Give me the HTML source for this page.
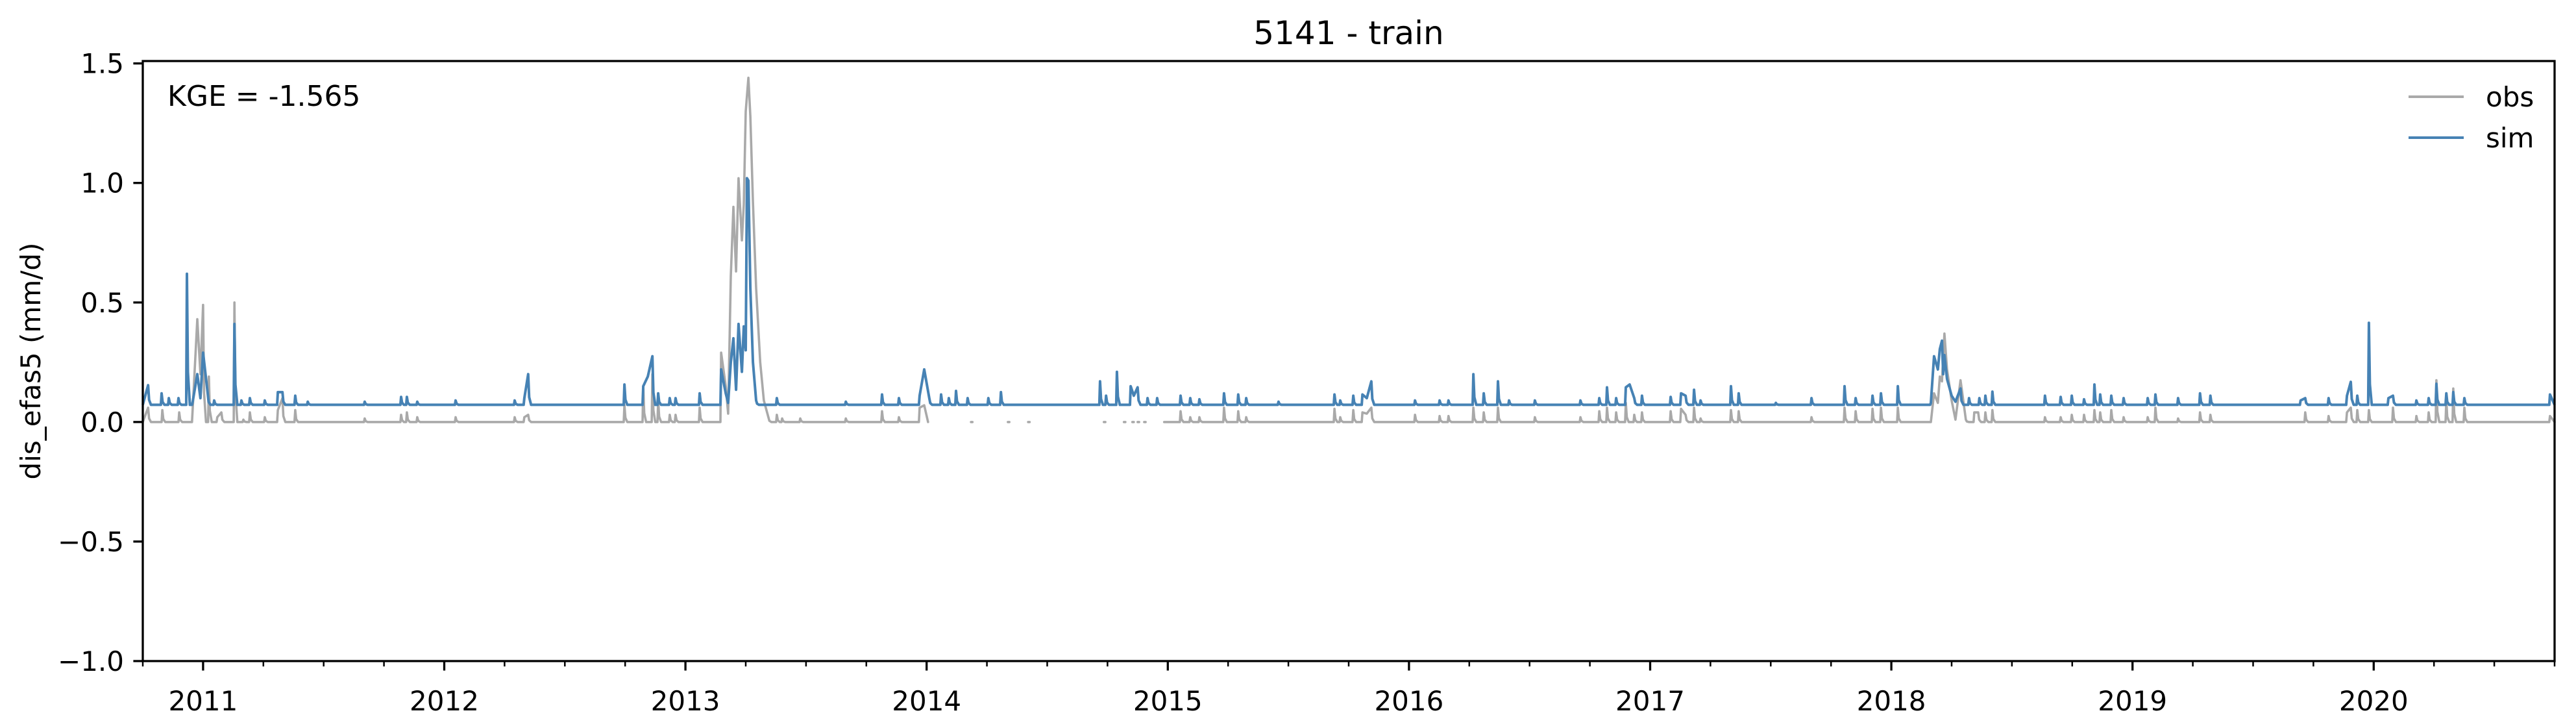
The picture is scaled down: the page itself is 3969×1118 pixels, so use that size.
<!DOCTYPE html>
<html><head><meta charset="utf-8"><title>5141 - train</title>
<style>
html,body{margin:0;padding:0;background:#fff;}
svg{display:block;font-family:"DejaVu Sans","Liberation Sans",sans-serif;}
</style></head>
<body>
<svg id="chart" width="3969" height="1118" viewBox="0 0 3969 1118" xmlns="http://www.w3.org/2000/svg">
<rect x="0" y="0" width="3969" height="1118" fill="#fff"/>
<text x="2078" y="68" font-size="50" text-anchor="middle">5141 - train</text>
<text transform="translate(62,556) rotate(-90)" font-size="42" text-anchor="middle">dis_efas5 (mm/d)</text>
<text x="258" y="163" font-size="44">KGE = -1.565</text>
<g id="plot"></g>
<g id="axes"></g>
<g>
  <line x1="3711" y1="149" x2="3796" y2="149" stroke="#a9a9a9" stroke-width="4"/>
  <text x="3830" y="164" font-size="42">obs</text>
  <line x1="3711" y1="212" x2="3796" y2="212" stroke="#4682b4" stroke-width="4"/>
  <text x="3830" y="227" font-size="42">sim</text>
</g>
</svg>
<script>
const yTicks = [1.5, 1.0, 0.5, 0.0, -0.5, -1.0];
const yTickLabels = ["1.5", "1.0", "0.5", "0.0", "\u22120.5", "\u22121.0"];
const xYears = [2011, 2012, 2013, 2014, 2015, 2016, 2017, 2018, 2019, 2020];
const xDomain = [2010.75, 2020.75];
const yDomain = [-1.0, 1.51];
const simBase = 0.072;
const obsBase = 0.0;
const simT = [2010.772,2010.828,2010.858,2010.898,2010.933,2010.957,2010.976,2010.989,2011.000,2011.019,2011.046,2011.130,2011.159,2011.194,2011.256,2011.310,2011.329,2011.382,2011.434,2011.670,2011.821,2011.845,2011.888,2012.047,2012.292,2012.332,2012.348,2012.747,2012.825,2012.844,2012.863,2012.887,2012.935,2012.959,2013.059,2013.148,2013.167,2013.177,2013.188,2013.199,2013.210,2013.220,2013.234,2013.242,2013.250,2013.255,2013.261,2013.269,2013.280,2013.293,2013.379,2013.665,2013.815,2013.885,2013.971,2013.990,2014.011,2014.060,2014.092,2014.122,2014.170,2014.256,2014.308,2014.719,2014.744,2014.789,2014.846,2014.859,2014.875,2014.916,2014.956,2015.053,2015.093,2015.131,2015.233,2015.292,2015.325,2015.459,2015.691,2015.715,2015.769,2015.807,2015.825,2015.844,2016.025,2016.127,2016.164,2016.267,2016.310,2016.369,2016.415,2016.522,2016.711,2016.789,2016.821,2016.859,2016.899,2016.915,2016.934,2016.966,2017.085,2017.128,2017.147,2017.182,2017.209,2017.335,2017.367,2017.521,2017.669,2017.806,2017.852,2017.922,2017.957,2018.027,2018.164,2018.177,2018.193,2018.201,2018.210,2018.215,2018.220,2018.231,2018.250,2018.266,2018.287,2018.322,2018.365,2018.390,2018.419,2018.637,2018.702,2018.748,2018.799,2018.842,2018.866,2018.912,2018.963,2019.063,2019.095,2019.189,2019.280,2019.323,2019.697,2019.716,2019.813,2019.889,2019.905,2019.932,2019.980,2020.061,2020.080,2020.177,2020.228,2020.260,2020.301,2020.330,2020.376,2020.731];
const simV = [0.154,0.12,0.10,0.10,0.62,0.085,0.20,0.10,0.29,0.12,0.09,0.41,0.09,0.10,0.09,0.125,0.125,0.11,0.085,0.085,0.105,0.105,0.085,0.09,0.09,0.10,0.20,0.157,0.15,0.19,0.275,0.12,0.10,0.10,0.12,0.22,0.12,0.08,0.25,0.35,0.135,0.41,0.21,0.40,0.30,1.02,1.01,0.56,0.25,0.09,0.10,0.085,0.115,0.10,0.11,0.22,0.10,0.115,0.10,0.13,0.10,0.10,0.125,0.17,0.11,0.21,0.15,0.11,0.145,0.10,0.10,0.11,0.10,0.095,0.12,0.115,0.10,0.085,0.115,0.09,0.11,0.115,0.10,0.17,0.09,0.09,0.09,0.20,0.12,0.17,0.09,0.09,0.09,0.10,0.145,0.10,0.145,0.157,0.10,0.11,0.105,0.12,0.11,0.135,0.09,0.15,0.12,0.08,0.10,0.15,0.10,0.11,0.12,0.15,0.08,0.275,0.22,0.305,0.34,0.20,0.28,0.18,0.11,0.085,0.14,0.10,0.10,0.11,0.127,0.11,0.105,0.11,0.095,0.157,0.115,0.11,0.10,0.10,0.115,0.10,0.12,0.11,0.09,0.10,0.10,0.11,0.168,0.11,0.415,0.10,0.11,0.09,0.10,0.16,0.12,0.125,0.10,0.115];
// null value = gap in observations; pairs of zero points between nulls are isolated dots
const obsT = [2010.772,2010.831,2010.901,2010.957,2010.976,2010.989,2011.000,2011.024,2011.059,2011.076,2011.130,2011.167,2011.194,2011.256,2011.310,2011.329,2011.382,2011.670,2011.821,2011.845,2011.888,2012.047,2012.292,2012.332,2012.348,2012.747,2012.825,2012.863,2012.887,2012.935,2012.959,2013.059,2013.148,2013.167,2013.177,2013.188,2013.199,2013.210,2013.220,2013.234,2013.242,2013.250,2013.261,2013.269,2013.280,2013.293,2013.310,2013.325,2013.344,2013.379,2013.401,2013.476,2013.665,2013.815,2013.885,2013.971,2013.990,2014.006,2014.007,2014.184,2014.190,2014.191,2014.337,2014.343,2014.344,2014.421,2014.427,2014.428,2014.735,2014.741,2014.742,2014.818,2014.824,2014.825,2014.853,2014.859,2014.860,2014.875,2014.881,2014.882,2014.902,2014.908,2014.909,2014.985,2015.053,2015.093,2015.131,2015.233,2015.292,2015.325,2015.691,2015.715,2015.769,2015.807,2015.825,2015.844,2016.025,2016.127,2016.164,2016.267,2016.310,2016.369,2016.522,2016.711,2016.789,2016.821,2016.859,2016.899,2016.934,2016.966,2017.085,2017.128,2017.147,2017.182,2017.209,2017.335,2017.367,2017.669,2017.806,2017.852,2017.922,2017.957,2018.027,2018.164,2018.177,2018.193,2018.201,2018.210,2018.220,2018.231,2018.250,2018.266,2018.287,2018.309,2018.344,2018.360,2018.390,2018.419,2018.637,2018.702,2018.748,2018.799,2018.842,2018.866,2018.912,2018.963,2019.063,2019.095,2019.189,2019.280,2019.323,2019.716,2019.813,2019.889,2019.905,2019.932,2019.980,2020.080,2020.177,2020.228,2020.260,2020.301,2020.330,2020.376,2020.731];
const obsV = [0.06,0.05,0.04,0.055,0.43,0.20,0.49,0.19,0.02,0.04,0.50,0.01,0.04,0.02,0.05,0.10,0.05,0.015,0.03,0.04,0.02,0.02,0.02,0.02,0.03,0.07,0.15,0.20,0.09,0.03,0.03,0.06,0.29,0.15,0.035,0.61,0.90,0.63,1.02,0.76,0.91,1.30,1.44,1.28,0.92,0.56,0.25,0.09,0.02,0.03,0.015,0.015,0.015,0.045,0.02,0.06,0.07,0.0,null,0.0,0.0,null,0.0,0.0,null,0.0,0.0,null,0.0,0.0,null,0.0,0.0,null,0.0,0.0,null,0.0,0.0,null,0.0,0.0,null,0.0,0.045,0.02,0.02,0.06,0.045,0.02,0.055,0.02,0.05,0.04,0.035,0.06,0.03,0.025,0.025,0.06,0.04,0.06,0.02,0.02,0.045,0.06,0.04,0.08,0.03,0.04,0.045,0.055,0.03,0.06,0.015,0.05,0.045,0.02,0.06,0.045,0.055,0.06,0.06,0.0,0.12,0.08,0.19,0.17,0.37,0.22,0.09,0.01,0.175,0.01,0.04,0.04,0.04,0.05,0.02,0.02,0.03,0.03,0.05,0.04,0.05,0.02,0.02,0.06,0.015,0.04,0.03,0.04,0.025,0.04,0.06,0.05,0.05,0.06,0.025,0.04,0.175,0.09,0.14,0.06,0.025];

const L = 220, R = 3936, T = 94, B = 1018;
const CLUSTER = 0.022;
function xs(t){ return L + (t - xDomain[0]) / (xDomain[1] - xDomain[0]) * (R - L); }
function ys(v){ return B - (v - yDomain[0]) / (yDomain[1] - yDomain[0]) * (B - T); }
const NS = "http://www.w3.org/2000/svg";
const plot = document.getElementById('plot');
const axes = document.getElementById('axes');

function buildPaths(ts, vs, base){
  const runs = []; let run = [];
  for (let i = 0; i < ts.length; i++){
    if (vs[i] === null){ if (run.length) runs.push(run); run = []; continue; }
    run.push([ts[i], vs[i]]);
  }
  if (run.length) runs.push(run);
  const paths = [];
  runs.forEach((r, ri) => {
    const pts = [];
    const isDot = r.length === 2 && r[0][1] === base && r[1][1] === base;
    if (isDot){ pts.push(r[0], r[1]); }
    else {
      if (ri === 0) pts.push([xDomain[0], base]);
      for (let i = 0; i < r.length; i++){
        const [t, v] = r[i];
        const pt = i > 0 ? r[i-1][0] : (ri === 0 ? xDomain[0] : null);
        const nt = i < r.length - 1 ? r[i+1][0] : (ri === runs.length - 1 ? xDomain[1] : null);
        if (pt !== null && t - pt > CLUSTER) pts.push([t - 0.003, base]);
        pts.push([t, v]);
        if (nt !== null && nt - t > CLUSTER){
          pts.push([t + 0.004, base + (v - base) * 0.25]);
          pts.push([t + 0.012, base]);
        }
      }
      if (ri === runs.length - 1) pts.push([xDomain[1], base]);
    }
    paths.push(pts.map((p, j) => (j ? 'L' : 'M') + xs(p[0]).toFixed(1) + ',' + ys(p[1]).toFixed(1)).join(''));
  });
  return paths;
}

buildPaths(obsT, obsV, obsBase).forEach(d => {
  const p = document.createElementNS(NS, 'path');
  
  
  p.setAttribute('d', d); p.setAttribute('fill', 'none'); p.setAttribute('stroke', '#a9a9a9');
  p.setAttribute('stroke-width', '3.6'); p.setAttribute('stroke-linejoin', 'round'); p.setAttribute('stroke-linecap', 'round');
  plot.appendChild(p);
});
buildPaths(simT, simV, simBase).forEach(d => {
  const p = document.createElementNS(NS, 'path');
  
  
  p.setAttribute('d', d); p.setAttribute('fill', 'none'); p.setAttribute('stroke', '#4682b4');
  p.setAttribute('stroke-width', '4'); p.setAttribute('stroke-linejoin', 'round');
  plot.appendChild(p);
});

const frame = document.createElementNS(NS, 'rect');


frame.setAttribute('x', L); frame.setAttribute('y', T); frame.setAttribute('width', R - L); frame.setAttribute('height', B - T);
frame.setAttribute('fill', 'none'); frame.setAttribute('stroke', '#000'); frame.setAttribute('stroke-width', '3.3');
axes.appendChild(frame);

yTicks.forEach((v, i) => {
  const y = ys(v);
  const tk = document.createElementNS(NS, 'line');
  
  
  tk.setAttribute('x1', L - 14.6); tk.setAttribute('x2', L); tk.setAttribute('y1', y); tk.setAttribute('y2', y);
  tk.setAttribute('stroke', '#000'); tk.setAttribute('stroke-width', '3.3');
  axes.appendChild(tk);
  const tx = document.createElementNS(NS, 'text');
  
  
  tx.setAttribute('x', L - 29); tx.setAttribute('y', y + 15); tx.setAttribute('font-size', '42'); tx.setAttribute('text-anchor', 'end');
  tx.textContent = yTickLabels[i];
  axes.appendChild(tx);
});

for (let yr = 2010; yr <= 2020; yr++){
  for (let q = 0; q < 4; q++){
    const t = yr + q * 0.25;
    if (t < xDomain[0] - 1e-6 || t > xDomain[1] + 1e-6) continue;
    const major = q === 0;
    const x = xs(t);
    const tk = document.createElementNS(NS, 'line');
    
    
    tk.setAttribute('x1', x); tk.setAttribute('x2', x); tk.setAttribute('y1', B); tk.setAttribute('y2', B + (major ? 14.6 : 8.3));
    tk.setAttribute('stroke', '#000'); tk.setAttribute('stroke-width', major ? '3.3' : '2.5');
    axes.appendChild(tk);
  }
}
xYears.forEach(yr => {
  const tx = document.createElementNS(NS, 'text');
  
  
  tx.setAttribute('x', xs(yr)); tx.setAttribute('y', B + 76); tx.setAttribute('font-size', '42'); tx.setAttribute('text-anchor', 'middle');
  tx.textContent = String(yr);
  axes.appendChild(tx);
});
</script>
</body></html>
